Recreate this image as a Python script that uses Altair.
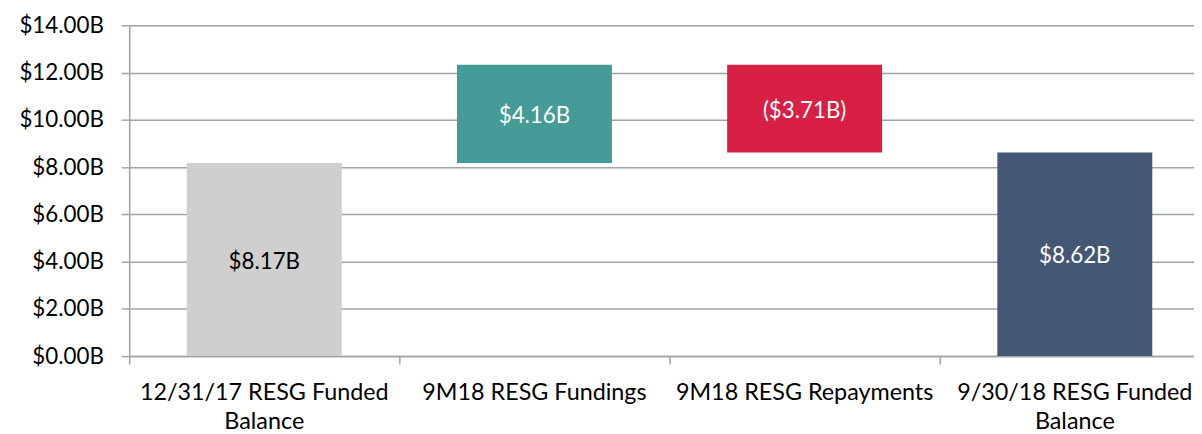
import altair as alt
import pandas as pd

categories = ["12/31/17 RESG Funded|Balance", "9M18 RESG Fundings", "9M18 RESG Repayments", "9/30/18 RESG Funded|Balance"]
starts = [0.0, 8.17, 12.33, 0.0]
ends = [8.17, 12.33, 8.62, 8.62]
labels = ["$8.17B", "$4.16B", "($3.71B)", "$8.62B"]
colors = ["#d0cece", "#459b95", "#d81f44", "#435875"]
text_colors = ["#000000", "#ffffff", "#ffffff", "#ffffff"]

df = pd.DataFrame({
    "cat": categories,
    "start": starts,
    "end": ends,
    "label": labels,
    "color": colors,
    "tcolor": text_colors,
})
df["mid"] = (df["start"] + df["end"]) / 2

FONT = "Lato"
FS = 22.5
GRAY = "#a0a3a8"

x = alt.X("cat:N", sort=categories, title=None,
          scale=alt.Scale(range=[0, 1088], paddingInner=0, paddingOuter=0),
          axis=alt.Axis(labelAngle=0, labelExpr="split(datum.label, '|')", labelFontSize=23.5,
                        labelFont=FONT, labelColor="#000000", labelLineHeight=29,
                        labelPadding=17, tickSize=8, bandPosition=0, domainColor=GRAY,
                        tickColor=GRAY, domainWidth=1.5, tickWidth=1.5, labelLimit=400))

bars = alt.Chart(df).mark_bar(width=156).encode(
    x=x,
    y=alt.Y("start:Q", title=None,
            scale=alt.Scale(domain=[0, 14], nice=False),
            axis=alt.Axis(values=[0, 2, 4, 6, 8, 10, 12, 14],
                          labelExpr="'$' + format(datum.value, '.2f') + 'B'",
                          labelFontSize=FS, labelFont=FONT, labelColor="#000000",
                          tickSize=8, labelPadding=18, gridColor=GRAY, gridWidth=1.5,
                          domainColor=GRAY, tickColor=GRAY, domainWidth=1.5,
                          tickWidth=1.5)),
    y2="end:Q",
    color=alt.Color("color:N", scale=None),
)

text = alt.Chart(df).mark_text(fontSize=FS, font=FONT, dy=2).encode(
    x=alt.X("cat:N", sort=categories),
    y=alt.Y("mid:Q"),
    text="label:N",
    color=alt.Color("tcolor:N", scale=None),
)

chart = (bars + text).properties(
    width=1072, height=333,
    autosize=alt.AutoSizeParams(type="none"),
    padding={"left": 122, "top": 16, "right": 0, "bottom": 77},
).configure_view(stroke=None).configure(background="#ffffff")

chart.save("out.html", embed_options={"renderer": "svg", "actions": False})
